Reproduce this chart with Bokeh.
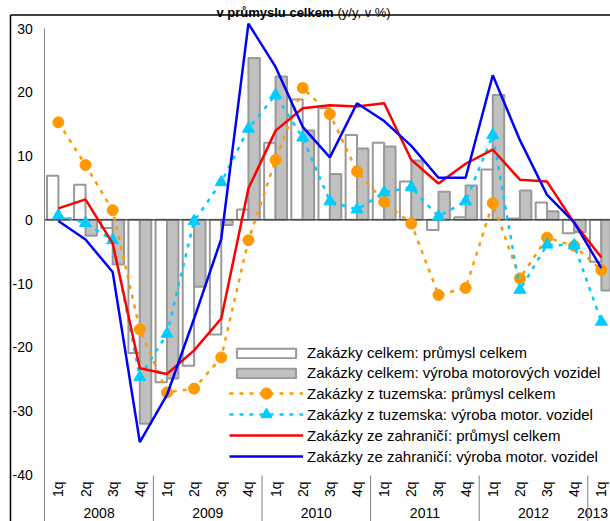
import math
from bokeh.plotting import figure
from bokeh.models import Range1d, LinearAxis, FixedTicker, Legend, LegendItem
from bokeh.core.properties import value
from bokeh.embed import file_html
from bokeh.resources import INLINE

# ---------------- data ----------------
quarters = ["1q", "2q", "3q", "4q"] * 5 + ["1q"]
years = ["2008", "2009", "2010", "2011", "2012", "2013"]
y_ticks = [-40, -30, -20, -10, 0, 10, 20, 30]

celkem_prumysl = [6.9, 5.5, -1.3, -20.9, -25.5, -22.9, -18.0, 1.6, 12.1, 18.9, 17.5,
                  13.3, 12.1, 6.0, -1.6, 0.4, 7.9, 0.2, 2.7, -2.1, -6.6]
celkem_motor = [0.2, -2.5, -7.0, -32.0, -24.9, -10.5, -0.8, 25.4, 22.5, 14.0, 7.2,
                11.2, 11.5, 9.3, 4.4, 5.4, 19.6, 4.6, 1.35, -1.9, -11.1]
tuzem_prumysl = [15.3, 8.6, 1.5, -17.2, -27.1, -26.5, -21.6, -3.2, 9.4, 20.7, 16.6,
                 7.6, 2.8, -0.6, -11.8, -10.7, 2.6, -9.2, -2.8, -4.1, -7.9]
tuzem_motor = [0.7, -0.5, -3.2, -24.7, -17.9, -0.2, 5.9, 14.3, 19.6, 12.9, 2.9,
               1.6, 4.3, 5.1, 0.5, 2.9, 13.3, -11.0, -3.9, -4.0, -16.0]
zahr_prumysl = [1.8, 3.2, -3.7, -23.3, -24.2, -20.5, -15.5, 4.9, 14.0, 17.5, 18.0,
                17.8, 18.3, 9.4, 5.7, 8.8, 11.0, 6.3, 6.0, -0.5, -5.9]
zahr_motor = [-0.2, -3.1, -8.2, -34.9, -27.5, -15.5, -3.0, 30.8, 24.0, 14.6, 9.8,
              18.3, 15.5, 11.6, 6.6, 6.6, 22.7, 12.5, 3.9, -0.4, -7.6]

labels = [
    "Zakázky celkem: průmysl celkem",
    "Zakázky celkem: výroba motorových vozidel",
    "Zakázky z tuzemska: průmysl celkem",
    "Zakázky z tuzemska: výroba motor. vozidel",
    "Zakázky ze zahraničí: průmysl celkem",
    "Zakázky ze zahraničí: výroba motor. vozidel",
]
title_bold = "v průmyslu celkem"
title_normal = "(y/y, v %)"

# ---------------- layout ----------------
W, H = 610, 521
CAT_PX = 27.15         # px per quarter
AXIS_PX = 44.3         # canvas x of the value axis
UNIT_PX = 6.37         # px per 1 %
ZERO_PX = 219.3        # canvas y of the 0 line

def xd(px):
    return -0.5 + (px - AXIS_PX) / CAT_PX

def yd(px):
    return (ZERO_PX - px) / UNIT_PX

FONT = "Liberation Sans"
n = len(quarters)
idx = list(range(n))

p = figure(width=W, height=H, output_backend="svg", toolbar_location=None,
           x_axis_type=None, y_axis_type=None,
           x_range=Range1d(xd(0), xd(W)), y_range=Range1d(yd(H), yd(0)),
           min_border_left=0, min_border_right=0, min_border_top=0, min_border_bottom=0)
p.outline_line_color = None
p.background_fill_color = "white"
p.border_fill_color = "white"

# value axis
yaxis = LinearAxis(fixed_location=-0.5, bounds=(yd(H), max(y_ticks)),
                   ticker=FixedTicker(ticks=y_ticks))
yaxis.major_label_overrides = {t: str(t) for t in y_ticks}
yaxis.axis_line_color = "#868686"
yaxis.axis_line_width = 1
yaxis.major_tick_line_color = None
yaxis.minor_tick_line_color = None
yaxis.major_tick_in = 0
yaxis.major_tick_out = 0
yaxis.major_label_standoff = 12
yaxis.major_label_text_font = FONT
yaxis.major_label_text_font_size = "14px"
yaxis.major_label_text_color = "black"
p.add_layout(yaxis, "left")

# chart border (left + top)
p.segment(x0=[xd(10), xd(10)], y0=[yd(14.5), yd(14.5)], x1=[xd(10), xd(W + 5)], y1=[yd(H + 5), yd(14.5)],
          line_color="black", line_width=1.5)

# bars
bw = 0.42
r_white = p.vbar(x=[i - bw / 2 for i in idx], top=celkem_prumysl, bottom=0, width=bw,
                 fill_color="white", line_color="#999999", line_width=2)
r_gray = p.vbar(x=[i + bw / 2 for i in idx], top=celkem_motor, bottom=0, width=bw,
                fill_color="#c0c0c0", line_color="#999999", line_width=2)

# zero line
p.segment(x0=[-0.5], y0=[0], x1=[n + 1], y1=[0], line_color="#4d4d4d", line_width=1.5)

ORANGE = "#FF9900"
CYAN = "#00CCFF"
r_o_line = p.line(idx, tuzem_prumysl, line_color=ORANGE, line_width=2.5, line_dash="4 6")
r_o_mark = p.scatter(idx, tuzem_prumysl, marker="circle", size=11, fill_color=ORANGE, line_color=ORANGE)
r_c_line = p.line(idx, tuzem_motor, line_color=CYAN, line_width=2.5, line_dash="4 6")
r_c_mark = p.scatter(idx, tuzem_motor, marker="triangle", size=12, fill_color=CYAN, line_color=CYAN)
r_red = p.line(idx, zahr_prumysl, line_color="#FF0000", line_width=2.5)
r_blue = p.line(idx, zahr_motor, line_color="#0000FF", line_width=2.5)

# category axis labels (quarters rotated, years below, separators)
p.text(x=idx, y=[yd(481)] * n, text=quarters, angle=math.pi / 2,
       text_align="right", text_baseline="middle",
       text_font=value(FONT), text_font_size=value("14px"), text_color="black")
year_x = []
for k, yr in enumerate(years):
    members = [i for i in idx if i // 4 == k]
    year_x.append(sum(members) / len(members))
# last (one-quarter) year label kept inside the picture
year_x[-1] = min(year_x[-1], xd(W - 18))
p.text(x=year_x, y=[yd(512.5)] * len(years), text=years,
       text_align="center", text_baseline="middle",
       text_font=value(FONT), text_font_size=value("14px"), text_color="black")
sep_x = [4 * k - 0.5 for k in range(1, len(years))]
p.segment(x0=sep_x, y0=[yd(475)] * len(sep_x), x1=sep_x, y1=[yd(H + 5)] * len(sep_x),
          line_color="#808080", line_width=1)

# title (small so that it fits above the chart border)
p.text(x=[xd(333)], y=[yd(11.5)], text=[title_bold], text_align="right", text_baseline="alphabetic",
       text_font=value(FONT), text_font_size=value("13px"), text_font_style="bold", text_color="black")
p.text(x=[xd(337)], y=[yd(11.5)], text=[title_normal], text_align="left", text_baseline="alphabetic",
       text_font=value(FONT), text_font_size=value("13px"), text_color="black")

def make_legend(items, bottom, glyph_h, spacing=0):
    lg = Legend(items=items, location=(229, bottom))
    lg.padding = 0
    lg.margin = 0
    lg.glyph_width = 74
    lg.glyph_height = glyph_h
    lg.label_height = 12
    lg.spacing = spacing
    lg.label_standoff = 4
    lg.label_text_font = FONT
    lg.label_text_font_size = "15px"
    lg.label_text_color = "black"
    lg.background_fill_alpha = 0.0
    lg.border_line_color = None
    p.add_layout(lg, "center")
    return lg

# bar legend (flat boxes)
make_legend([LegendItem(label=labels[0], renderers=[r_white]),
             LegendItem(label=labels[1], renderers=[r_gray])], 140, 12, 3)

# line legends, one row each, tall glyph area so the markers keep their size
line_items = [
    LegendItem(label=labels[2], renderers=[r_o_line, r_o_mark]),
    LegendItem(label=labels[3], renderers=[r_c_line, r_c_mark]),
    LegendItem(label=labels[4], renderers=[r_red]),
    LegendItem(label=labels[5], renderers=[r_blue]),
]
row_centers = [393, 414, 435, 456]
for item, c in zip(line_items, row_centers):
    make_legend([item], H - (c + 14), 28)

open("out.html", "w").write(file_html(p, INLINE))
